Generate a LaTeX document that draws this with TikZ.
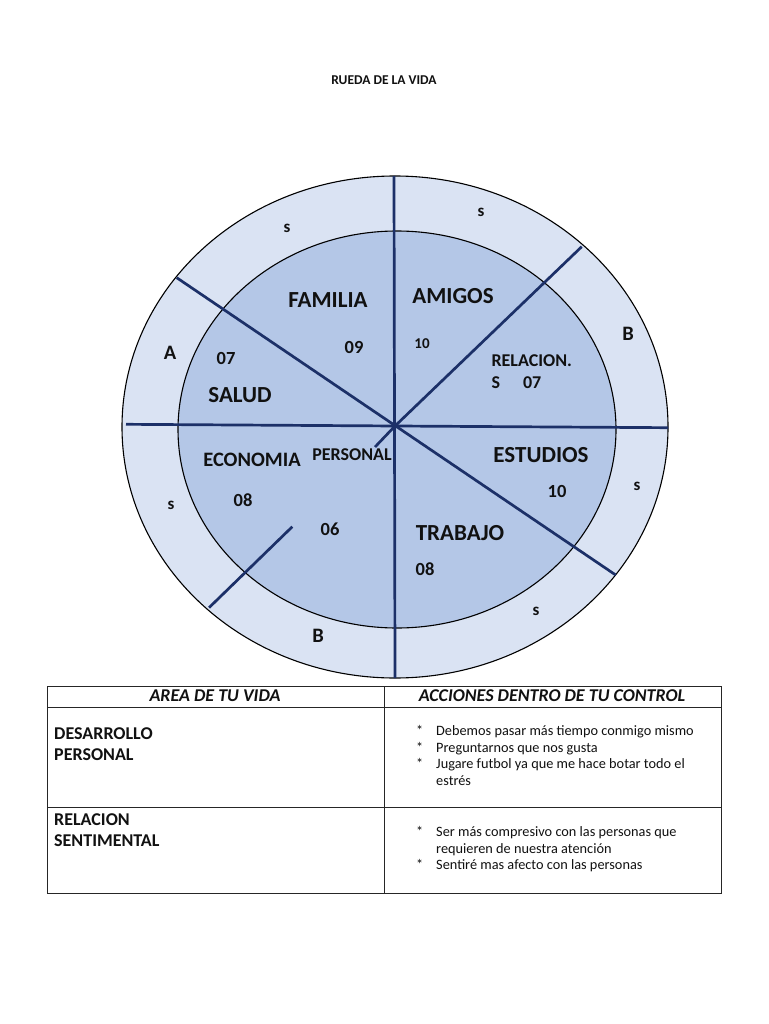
\documentclass[tikz,border=0pt]{standalone}
\usepackage{fontspec}
\setmainfont{Carlito}
\usetikzlibrary{positioning}
\definecolor{WheelRing}{HTML}{DAE3F3}
\definecolor{WheelCore}{HTML}{B4C7E7}
\definecolor{WheelSpoke}{HTML}{1C3068}
\definecolor{WheelInk}{HTML}{111111}
\newcommand{\wheelitem}[1]{\makebox[20pt][l]{*}#1}
\newcommand{\wheelmore}[1]{\makebox[20pt][l]{}#1}
\tikzset{
  wheeltitle/.style={font=\bfseries\fontsize{13.5}{16}\selectfont, text=WheelInk},
  arealabel/.style={font=\bfseries\fontsize{23}{26}\selectfont, text=WheelInk},
  midlabel/.style={font=\bfseries\fontsize{18}{20}\selectfont, text=WheelInk},
  scorelabel/.style={font=\bfseries\fontsize{18.5}{20}\selectfont, text=WheelInk},
  ringlabel/.style={font=\bfseries\fontsize{17}{20}\selectfont, text=WheelInk},
  ringletter/.style={font=\bfseries\fontsize{20.5}{22}\selectfont, text=WheelInk},
  wheelring/.style={fill=WheelRing, draw=black, line width=1.1pt},
  wheelcore/.style={fill=WheelCore, draw=black, line width=1.1pt},
  spoke/.style={draw=WheelSpoke, line width=2.7pt},
  tablerule/.style={draw=black!85, line width=1pt},
  headcell/.style={font=\bfseries\itshape\fontsize{18}{20}\selectfont, text=WheelInk},
  areacell/.style={font=\bfseries\fontsize{18}{21}\selectfont, text=WheelInk, anchor=north west, align=left, inner sep=0pt},
  actioncell/.style={font=\fontsize{14.3}{16.7}\selectfont, text=WheelInk, anchor=north west, align=left, inner sep=0pt}
}

\begin{document}
\begin{tikzpicture}[x=1pt, y=-1pt]
\useasboundingbox[fill=white] (0,0) rectangle (768,1024);
\node[wheeltitle] (title) at (384,80) {RUEDA DE LA VIDA};

\draw[wheelring] (395,427) ellipse [x radius=273pt, y radius=251pt];
\draw[wheelcore] (397,429.5) ellipse [x radius=219pt, y radius=198.5pt];

\coordinate (hub) at (395,426);
\coordinate (top) at (394,176);
\coordinate (bottom) at (395,678);
\coordinate (west) at (126,424.3);
\coordinate (east) at (668,427.7);
\coordinate (nw) at (176.7,277.7);
\coordinate (se) at (615.7,575);
\coordinate (ne) at (581.7,246.7);
\coordinate (stub) at (375,447);
\coordinate (swin) at (292.3,526.7);
\coordinate (swout) at (209,607.7);
\draw[spoke] (top) -- (bottom);
\draw[spoke] (west) -- (east);
\draw[spoke] (nw) -- (se);
\draw[spoke] (ne) -- (hub) -- (stub);
\draw[spoke] (swin) -- (swout);

\node[ringlabel] (s1) at (287,228) {s};
\node[ringlabel] (s2) at (481,212) {s};
\node[ringletter] (b1) at (628,334) {B};
\node[ringletter] (a1) at (170,353) {A};
\node[ringlabel] (s3) at (171,505) {s};
\node[ringlabel] (s4) at (637,486) {s};
\node[ringlabel] (s5) at (536,611) {s};
\node[ringletter] (b2) at (318,636) {B};

\node[arealabel] (familia) at (328,300) {FAMILIA};
\node[scorelabel] (familiaval) at (354,347) {09};
\node[arealabel] (amigos) at (453,296) {AMIGOS};
\node[font=\bfseries\fontsize{15}{18}\selectfont, text=WheelInk] (amigosval) at (422,344) {10};
\node[midlabel, anchor=west] (relacion) at (488,361) {RELACION.};
\node[midlabel, anchor=west] (relacionval) at (488,383) {S\hspace{23pt}07};
\node[scorelabel] (saludval) at (226,358) {07};
\node[arealabel] (salud) at (240,395) {SALUD};
\node[font=\bfseries\fontsize{20.5}{22}\selectfont, text=WheelInk] (economia) at (252,460) {ECONOMIA};
\node[midlabel] (personal) at (352,455) {PERSONAL};
\node[arealabel] (estudios) at (541,455) {ESTUDIOS};
\node[scorelabel] (estudiosval) at (557,491) {10};
\node[scorelabel] (economiaval) at (243,500) {08};
\node[scorelabel] (personalval) at (330,529) {06};
\node[arealabel] (trabajo) at (460,533) {TRABAJO};
\node[scorelabel] (trabajoval) at (425,569) {08};

\draw[tablerule] (47,686) rectangle (721,893);
\draw[tablerule] (47,707) -- (721,707);
\draw[tablerule] (47,807) -- (721,807);
\draw[tablerule] (384,686) -- (384,893);
\node[headcell] (areahead) at (215,695.5) {AREA DE TU VIDA};
\node[headcell] (actionhead) at (552,695.5) {ACCIONES DENTRO DE TU CONTROL};
\node[areacell] (area1) at (54,727) {DESARROLLO\\PERSONAL};
\node[areacell] (area2) at (54,813) {RELACION\\SENTIMENTAL};
\node[actioncell] (acts1) at (416,725) {\wheelitem{Debemos pasar más tiempo conmigo mismo}\\
  \wheelitem{Preguntarnos que nos gusta}\\
  \wheelitem{Jugare futbol ya que me hace botar todo el}\\
  \wheelmore{estrés}};
\node[actioncell] (acts2) at (416,826) {\wheelitem{Ser más compresivo con las personas que}\\
  \wheelmore{requieren de nuestra atención}\\
  \wheelitem{Sentiré mas afecto con las personas}};
\end{tikzpicture}
\end{document}
